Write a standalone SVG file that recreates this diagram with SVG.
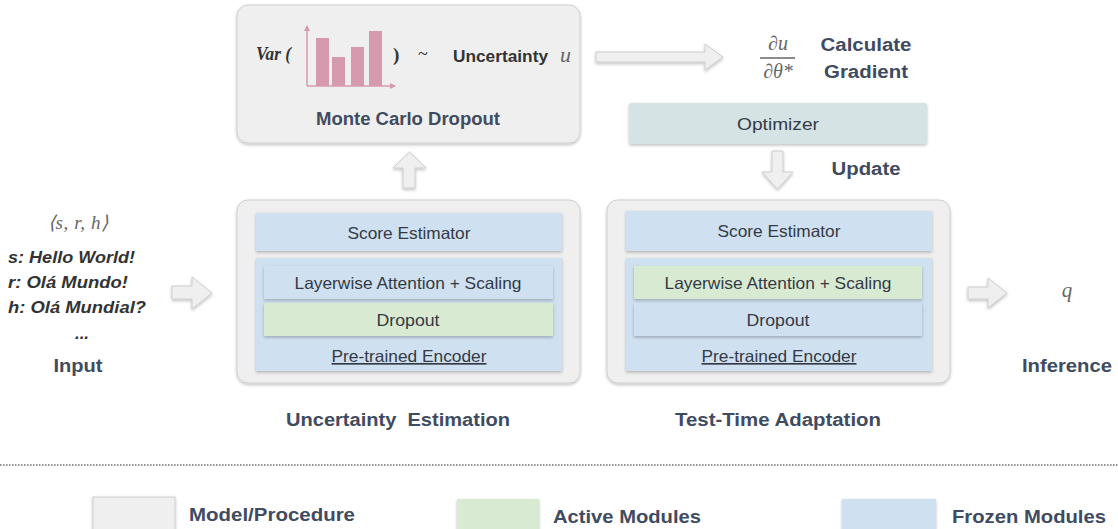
<svg xmlns="http://www.w3.org/2000/svg" width="1118" height="529" viewBox="0 0 1118 529">
<style>
.lbl{font-family:"Liberation Sans",Arial,sans-serif;font-weight:bold;fill:#3f4b61;font-size:18px}
.in{font-family:"Liberation Sans",Arial,sans-serif;fill:#333a45;font-size:16.5px;text-anchor:middle}
.math{font-family:"Liberation Serif","Times New Roman",serif;font-style:italic;fill:#666}
.box{fill:#efefef;stroke:#cfcfcf;stroke-width:1}
.blue{fill:#cfe0f1}
.green{fill:#d9ead3}
.arr{fill:#efefef;stroke:#cdcdcd;stroke-width:1}
.bar{fill:#d59aae}
</style>
<defs>
<filter id="sh" x="-10%" y="-10%" width="120%" height="130%">
<feDropShadow dx="0" dy="1.5" stdDeviation="1.5" flood-color="#000" flood-opacity="0.25"/>
</filter>
<marker id="ah" markerWidth="6" markerHeight="6" refX="5" refY="3" orient="auto" markerUnits="userSpaceOnUse">
<path d="M0,0 L6,3 L0,6 Z" fill="#d59aae"/>
</marker>
</defs>
<rect width="1118" height="529" fill="#fff"/>

<g id="mc-dropout">
<rect class="box" x="237" y="5" width="343" height="138" rx="11" filter="url(#sh)"/>
<text x="256" y="60" font-family="Liberation Serif,serif" font-style="italic" font-weight="bold" font-size="19" fill="#333" textLength="35" lengthAdjust="spacingAndGlyphs">Var (</text>
<line x1="307" y1="86" x2="307" y2="26" stroke="#d59aae" stroke-width="1.5" marker-end="url(#ah)"/>
<line x1="307" y1="86" x2="395" y2="86" stroke="#d59aae" stroke-width="1.5" marker-end="url(#ah)"/>
<rect class="bar" x="316" y="38" width="13" height="48"/>
<rect class="bar" x="332" y="57" width="13" height="29"/>
<rect class="bar" x="351" y="47" width="13" height="39"/>
<rect class="bar" x="369" y="31" width="13" height="55"/>
<text x="393" y="61" font-family="Liberation Serif,serif" font-weight="bold" font-size="19" fill="#333">)</text>
<text x="418" y="60" font-family="Liberation Serif,serif" font-size="18" fill="#333">~</text>
<text x="453" y="62" font-family="Liberation Sans,Arial,sans-serif" font-weight="bold" font-size="17" fill="#333" textLength="95" lengthAdjust="spacingAndGlyphs">Uncertainty</text>
<text x="560" y="62" class="math" font-size="22">u</text>
<text x="408" y="125" class="lbl" text-anchor="middle" textLength="184" lengthAdjust="spacingAndGlyphs">Monte Carlo Dropout</text>
</g>

<g id="gradient">
<text x="778" y="50" class="math" font-size="20" text-anchor="middle">∂u</text>
<line x1="760" y1="58" x2="795" y2="58" stroke="#666" stroke-width="1.3"/>
<text x="778" y="78" class="math" font-size="20" text-anchor="middle">∂θ*</text>
<text x="866" y="51" class="lbl" text-anchor="middle" textLength="91" lengthAdjust="spacingAndGlyphs">Calculate</text>
<text x="866" y="78" class="lbl" text-anchor="middle" textLength="84" lengthAdjust="spacingAndGlyphs">Gradient</text>
</g>

<g id="optimizer">
<rect x="629" y="103" width="298" height="41" rx="2" fill="#d5e3e5" filter="url(#sh)"/>
<text x="778" y="130" class="in" textLength="82" lengthAdjust="spacingAndGlyphs">Optimizer</text>
</g>
<text x="866" y="175" class="lbl" text-anchor="middle" textLength="69" lengthAdjust="spacingAndGlyphs">Update</text>

<g id="uncertainty-estimation">
<rect class="box" x="237" y="200" width="343" height="183" rx="11" filter="url(#sh)"/>
<rect class="blue" x="256" y="213" width="306" height="38" filter="url(#sh)"/>
<text x="409" y="239" class="in" textLength="123" lengthAdjust="spacingAndGlyphs">Score Estimator</text>
<rect class="blue" x="256" y="258" width="306" height="113" filter="url(#sh)"/>
<rect class="blue" x="264" y="266" width="289" height="33" filter="url(#sh)"/>
<text x="408" y="289" class="in" textLength="227" lengthAdjust="spacingAndGlyphs">Layerwise Attention + Scaling</text>
<rect class="green" x="264" y="303" width="289" height="33" filter="url(#sh)"/>
<text x="408" y="326" class="in" textLength="63" lengthAdjust="spacingAndGlyphs">Dropout</text>
<text x="409" y="362" class="in" text-decoration="underline" textLength="155" lengthAdjust="spacingAndGlyphs">Pre-trained Encoder</text>
</g>
<text x="398" y="426" class="lbl" text-anchor="middle" xml:space="preserve" textLength="224" lengthAdjust="spacingAndGlyphs">Uncertainty  Estimation</text>

<g id="test-time-adaptation">
<rect class="box" x="607" y="200" width="343" height="183" rx="11" filter="url(#sh)"/>
<rect class="blue" x="626" y="211" width="306" height="40" filter="url(#sh)"/>
<text x="779" y="237" class="in" textLength="123" lengthAdjust="spacingAndGlyphs">Score Estimator</text>
<rect class="blue" x="626" y="258" width="306" height="113" filter="url(#sh)"/>
<rect class="green" x="634" y="266" width="288" height="33" filter="url(#sh)"/>
<text x="778" y="289" class="in" textLength="227" lengthAdjust="spacingAndGlyphs">Layerwise Attention + Scaling</text>
<rect class="blue" x="634" y="303" width="288" height="33" filter="url(#sh)"/>
<text x="778" y="326" class="in" textLength="63" lengthAdjust="spacingAndGlyphs">Dropout</text>
<text x="779" y="362" class="in" text-decoration="underline" textLength="155" lengthAdjust="spacingAndGlyphs">Pre-trained Encoder</text>
</g>
<text x="778" y="426" class="lbl" text-anchor="middle" textLength="206" lengthAdjust="spacingAndGlyphs">Test-Time Adaptation</text>

<g id="input">
<text x="78" y="229" class="math" font-size="19" text-anchor="middle" textLength="60">⟨s, r, h⟩</text>
<g font-family="Liberation Sans,Arial,sans-serif" font-weight="bold" font-style="italic" font-size="17" fill="#333">
<text x="8" y="263" textLength="127" lengthAdjust="spacingAndGlyphs">s: Hello World!</text>
<text x="8" y="288" textLength="120" lengthAdjust="spacingAndGlyphs">r: Olá Mundo!</text>
<text x="8" y="313" textLength="138" lengthAdjust="spacingAndGlyphs">h: Olá Mundial?</text>
<text x="82" y="339" text-anchor="middle">...</text>
</g>
<text x="78" y="372" class="lbl" text-anchor="middle" textLength="49" lengthAdjust="spacingAndGlyphs">Input</text>
</g>

<g id="inference">
<text x="1067" y="297" class="math" font-size="21" text-anchor="middle">q</text>
<text x="1067" y="372" class="lbl" text-anchor="middle" textLength="90" lengthAdjust="spacingAndGlyphs">Inference</text>
</g>

<g id="connectors">
<path class="arr" filter="url(#sh)" d="M596,52 L705,52 L705,44 L723,57 L705,70 L705,62 L596,62 Z"/>
<path class="arr" filter="url(#sh)" d="M403,188 L403,168 L393,168 L409.5,152 L426,168 L415,168 L415,188 Z"/>
<path class="arr" filter="url(#sh)" d="M772,151 L783,151 L783,172 L793,172 L777.5,189 L762,172 L772,172 Z"/>
<path class="arr" filter="url(#sh)" d="M172,286 L192,286 L192,277 L212,293 L192,309 L192,299 L172,299 Z"/>
<path class="arr" filter="url(#sh)" d="M968,287 L988,287 L988,278 L1007,293 L988,308 L988,299 L968,299 Z"/>
</g>

<line x1="0" y1="465" x2="1118" y2="465" stroke="#222" stroke-width="1" stroke-dasharray="1.5,1.5"/>

<g id="legend">
<rect x="93" y="497" width="82" height="40" fill="#efefef" stroke="#cfcfcf" filter="url(#sh)"/>
<text x="189" y="521" class="lbl" textLength="166" lengthAdjust="spacingAndGlyphs">Model/Procedure</text>
<rect x="457" y="499" width="82" height="40" fill="#d9ead3" filter="url(#sh)"/>
<text x="553" y="523" class="lbl" textLength="148" lengthAdjust="spacingAndGlyphs">Active Modules</text>
<rect x="842" y="499" width="94" height="40" fill="#cfe0f1" filter="url(#sh)"/>
<text x="952" y="523" class="lbl" textLength="154" lengthAdjust="spacingAndGlyphs">Frozen Modules</text>
</g>
</svg>
